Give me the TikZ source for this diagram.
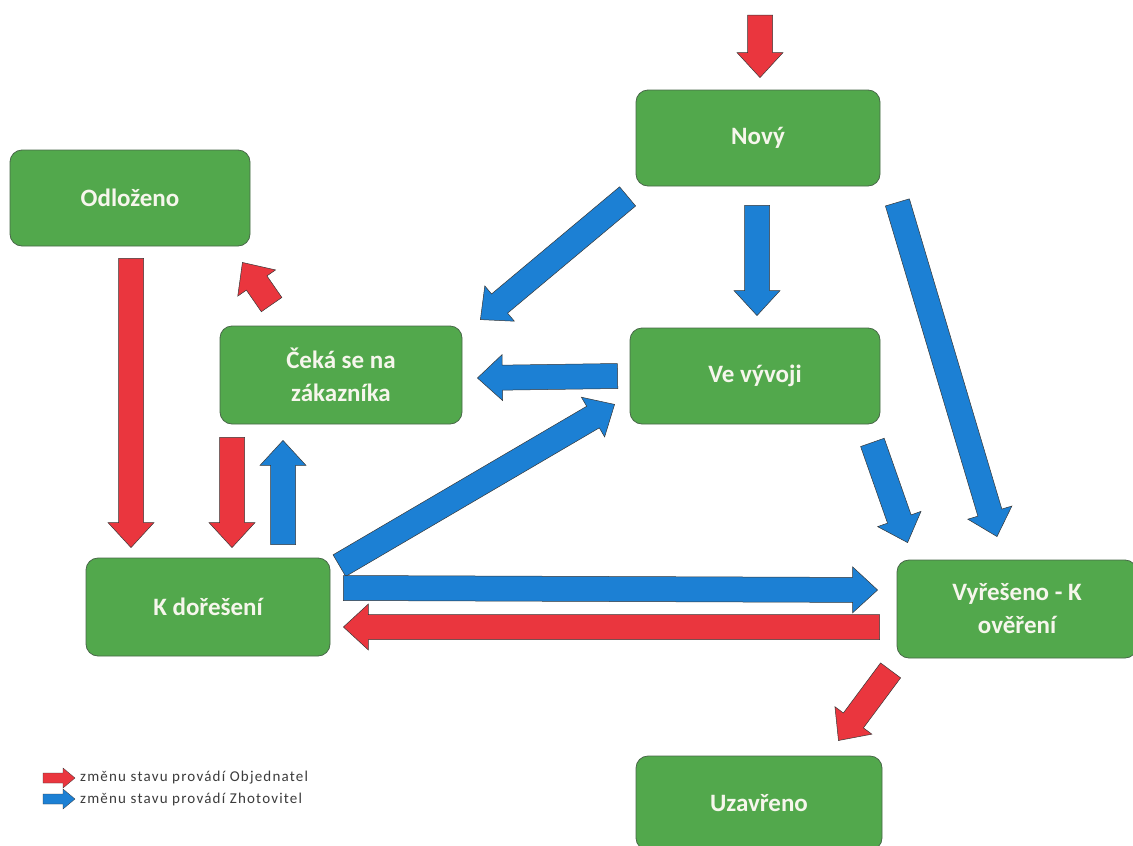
\documentclass[tikz,border=0pt]{standalone}
\usepackage{fontspec}
\setmainfont{Carlito}
\usetikzlibrary{calc}
\definecolor{boxgreen}{RGB}{82,168,76}
\definecolor{boxedge}{RGB}{72,104,72}
\definecolor{arrred}{RGB}{234,54,62}
\definecolor{arrblue}{RGB}{28,128,212}
\definecolor{arredge}{RGB}{55,55,55}
\definecolor{legendtext}{RGB}{60,60,60}
\definecolor{labeltext}{RGB}{246,246,236}
\tikzset{
  arrw/.store in=\arrw, arrh/.store in=\arrh, arrk/.store in=\arrk,
  arrw=12.5pt, arrh=23pt, arrk=25pt,
  blockarrow/.style={draw=arredge, line width=0.5pt, line join=miter,
    to path={let \p0=(\tikztostart), \p9=(\tikztotarget), \p1=($(\p9)-(\p0)$),
      \n1={veclen(\x1,\y1)}, \n2={atan2(\y1,\x1)} in
      ([shift={(\p0)},rotate=\n2]0pt,\arrw)
      -- ([shift={(\p0)},rotate=\n2]\n1-\arrk,\arrw)
      -- ([shift={(\p0)},rotate=\n2]\n1-\arrk,\arrh)
      -- ([shift={(\p0)},rotate=\n2]\n1,0pt)
      -- ([shift={(\p0)},rotate=\n2]\n1-\arrk,-\arrh)
      -- ([shift={(\p0)},rotate=\n2]\n1-\arrk,-\arrw)
      -- ([shift={(\p0)},rotate=\n2]0pt,-\arrw) -- cycle}},
  redarrow/.style={blockarrow, fill=arrred},
  bluearrow/.style={blockarrow, fill=arrblue},
  statebox/.style={draw=boxedge, line width=0.8pt, fill=boxgreen,
    rounded corners=12pt, text=labeltext, align=center, inner sep=0pt,
    font=\fontsize{25}{33}\selectfont\bfseries},
  legendlabel/.style={anchor=west, text=legendtext, inner sep=0pt,
    font=\fontsize{15}{18}\selectfont\addfontfeature{LetterSpace=8}}
}
\begin{document}
\begin{tikzpicture}[x=1pt,y=-1pt]
\useasboundingbox (0,0) rectangle (1133,846);
\fill[white] (0,0) rectangle (1133,846);

% states
\node[statebox, minimum width=244pt, minimum height=96pt] (novy) at (758,138) {Nový};
\node[statebox, minimum width=240pt, minimum height=96pt] (odlozeno) at (130,198) {Odloženo};
\node[statebox, minimum width=242pt, minimum height=98pt] (ceka) at (341,375) {Čeká se na\\zákazníka};
\node[statebox, minimum width=250pt, minimum height=96pt] (vyvoj) at (755,376) {Ve vývoji};
\node[statebox, minimum width=244pt, minimum height=98pt] (kdoreseni) at (208,607) {K dořešení};
\node[statebox, minimum width=240pt, minimum height=98pt] (vyreseno) at (1017,609) {Vyřešeno - K\\ověření};
\node[statebox, minimum width=246pt, minimum height=94pt] (uzavreno) at (759,803) {Uzavřeno};

% entry arrow
\coordinate (entry) at (760,15);
\draw[redarrow] (entry) to ($(novy.north)+(2,-12)$);

% transitions
\draw[bluearrow] ($(novy.south west)+(-8,10)$) to ($(ceka.north east)+(18,-6)$);
\draw[bluearrow] ($(novy.south)+(-1,19)$) to ($(vyvoj.north)+(2,-12)$);
\draw[bluearrow] ($(novy.south east)+(17,16)$) to ($(vyreseno.north)+(-20,-23)$);
\draw[redarrow] ($(ceka.north west)+(52,-21)$) to ($(odlozeno.south east)+(-8,16)$);
\draw[bluearrow] ($(vyvoj.west)+(-12,0)$) to ($(ceka.east)+(15,3)$);
\draw[bluearrow] ($(vyvoj.south east)+(-8,18)$) to ($(vyreseno.north west)+(11,-17)$);
\draw[redarrow] ($(odlozeno.south)+(1,12)$) to ($(kdoreseni.north)+(-77,-10)$);
\draw[redarrow] ($(ceka.south)+(-109,13)$) to ($(kdoreseni.north)+(24,-10)$);
\draw[bluearrow] ($(kdoreseni.north)+(75,-13)$) to ($(ceka.south)+(-58,16)$);
\draw[bluearrow] ($(kdoreseni.north east)+(9,8)$) to ($(vyvoj.south west)+(-15,-20)$);
\draw[bluearrow] ($(kdoreseni.east)+(13,-19)$) to ($(vyreseno.west)+(-19,-19)$);
\draw[redarrow] ($(vyreseno.west)+(-17,18)$) to ($(kdoreseni.east)+(13,20)$);
\draw[redarrow] ($(vyreseno.south west)+(-6,12)$) to ($(uzavreno.north east)+(-44,-15)$);

% legend
\coordinate (legredA) at (43,778);
\coordinate (legredB) at (75,778);
\coordinate (legblueA) at (43,799);
\coordinate (legblueB) at (75,799);
\draw[redarrow, arrw=5pt, arrh=10pt, arrk=12pt, line width=0.3pt] (legredA) to (legredB);
\draw[bluearrow, arrw=5pt, arrh=10pt, arrk=12pt, line width=0.3pt] (legblueA) to (legblueB);
\node[legendlabel] (legred) at (80,778) {změnu stavu provádí Objednatel};
\node[legendlabel] (legblue) at (80,799) {změnu stavu provádí Zhotovitel};
\end{tikzpicture}
\end{document}
